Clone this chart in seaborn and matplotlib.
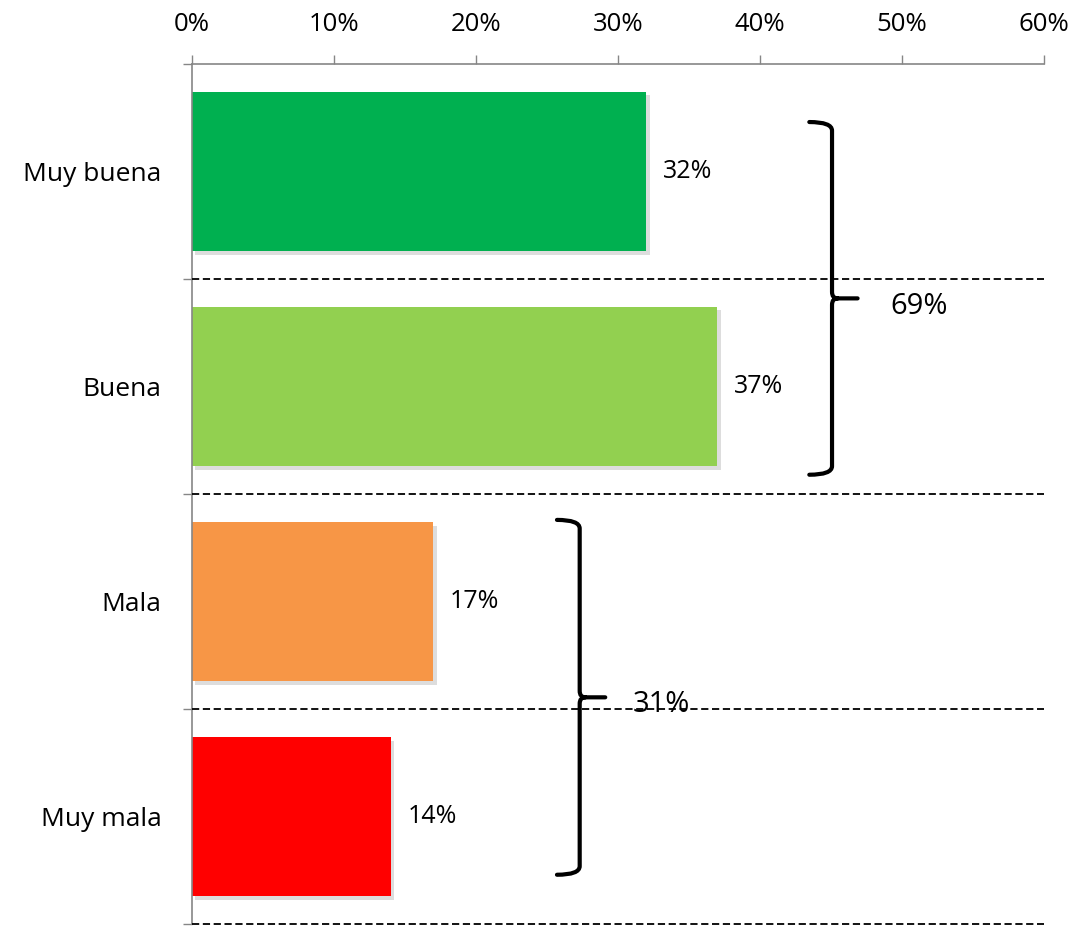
import seaborn as sns
import matplotlib.pyplot as plt
import matplotlib.patheffects as pe
from matplotlib.path import Path
from matplotlib.patches import PathPatch
from matplotlib.ticker import PercentFormatter

# datos de la encuesta
categorias = ["Muy buena", "Buena", "Mala", "Muy mala"]
valores = [0.32, 0.37, 0.17, 0.14]
colores = ["#00B050", "#92D050", "#F79646", "#FF0000"]
x_ticks = [0, 0.1, 0.2, 0.3, 0.4, 0.5, 0.6]

sns.set_theme(style="white")
plt.rcParams["font.family"] = ["Open Sans", "DejaVu Sans"]
plt.rcParams["text.color"] = "black"
plt.rcParams["xtick.labelcolor"] = "black"
plt.rcParams["ytick.labelcolor"] = "black"

fig, ax = plt.subplots(figsize=(10.8, 9.27), dpi=100)
fig.subplots_adjust(left=0.1778, right=0.9667, top=0.931, bottom=0.003)

sns.barplot(x=valores, y=categorias, hue=categorias, palette=colores,
            orient="h", width=0.74, legend=False, ax=ax,
            edgecolor="none", linewidth=0, saturation=1)

sombra = [pe.SimplePatchShadow(offset=(2.5, -2.5), alpha=0.2, shadow_rgbFace="#555555"), pe.Normal()]
for bar in ax.patches:
    bar.set_path_effects(sombra)

for c in ax.containers:
    ax.bar_label(c, labels=[f"{v:.0%}" for v in c.datavalues], padding=12,
                 fontsize=18, color="black")

# ejes
ax.set_xlim(0, 0.6)
ax.set_ylim(3.5, -0.5)
ax.set_xticks(x_ticks)
ax.xaxis.set_major_formatter(PercentFormatter(1.0, decimals=0))
ax.xaxis.tick_top()
ax.tick_params(axis="x", which="major", direction="out", length=6.5, width=1,
               color="#868686", labelsize=18.5, pad=13, top=True, bottom=False)
ax.tick_params(axis="y", which="major", length=0, labelsize=19, pad=22)
ax.set_yticks([-0.5, 0.5, 1.5, 2.5, 3.5], minor=True)
ax.tick_params(axis="y", which="minor", direction="out", length=6.5, width=1,
               color="#868686", left=True)
ax.set_xlabel("")
ax.set_ylabel("")
for s in ["right", "bottom"]:
    ax.spines[s].set_visible(False)
for s in ["top", "left"]:
    ax.spines[s].set_color("#868686")
    ax.spines[s].set_linewidth(1.2)

# lineas punteadas entre categorias
for y in [0.5, 1.5, 2.5, 3.5]:
    ax.axhline(y, color="black", lw=1.3, ls=(0, (4, 2)), clip_on=False, zorder=3)


def llave(ax, x, y0, y1, ancho, punta):
    ym = (y0 + y1) / 2
    r = 0.04
    verts = [(x - ancho, y0), (x, y0), (x, y0 + r),
             (x, ym - 0.03), (x, ym), (x + 0.004, ym), (x + punta, ym),
             (x + 0.004, ym), (x, ym), (x, ym + 0.03),
             (x, y1 - r), (x, y1), (x - ancho, y1)]
    codes = [Path.MOVETO, Path.CURVE3, Path.CURVE3,
             Path.LINETO, Path.CURVE3, Path.CURVE3, Path.LINETO,
             Path.MOVETO, Path.CURVE3, Path.CURVE3,
             Path.LINETO, Path.CURVE3, Path.CURVE3]
    ax.add_patch(PathPatch(Path(verts, codes), fill=False, lw=3, color="black",
                           capstyle="round", clip_on=False, zorder=4))


# grupos positivos y negativos
llave(ax, 0.4507, -0.23, 1.41, 0.016, 0.018)
ax.text(0.4915, 0.63, f"{valores[0] + valores[1]:.0%}", fontsize=21, va="center", ha="left")
llave(ax, 0.273, 1.62, 3.27, 0.016, 0.018)
ax.text(0.3106, 2.48, f"{valores[2] + valores[3]:.0%}", fontsize=21, va="center", ha="left")

plt.savefig("out.png", dpi=100)
